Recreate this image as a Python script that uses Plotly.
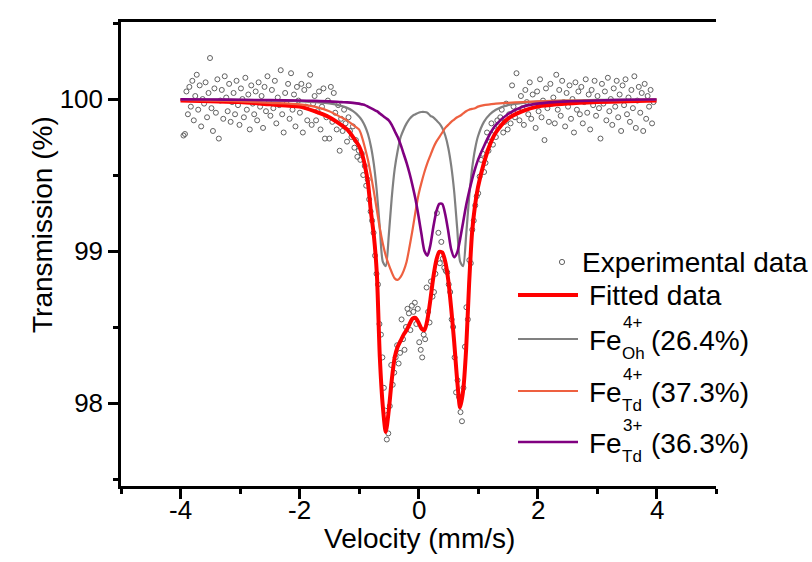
import numpy as np
import plotly.graph_objects as go

# ---------------- data ----------------
# Experimental transmission (%) for equally spaced velocity channels -3.95 .. 3.95 mm/s
trans_exp = [
    99.76, 99.77, 100.05, 99.90, 100.08, 99.95, 100.12, 99.86, 100.02, 100.16,
    99.93, 100.09, 99.82, 100.00, 99.97, 100.11, 99.88, 100.04, 100.27, 99.94,
    99.79, 100.07, 99.91, 100.13, 99.74, 99.99, 100.06, 99.87, 100.15, 100.01,
    99.92, 100.10, 99.85, 99.98, 100.04, 99.90, 100.12, 99.96, 99.83, 100.07,
    100.00, 99.88, 100.14, 99.93, 100.03, 99.80, 100.09, 99.97, 99.90, 100.05,
    99.86, 100.11, 99.95, 100.02, 99.81, 100.08, 99.92, 100.15, 99.98, 99.89,
    100.06, 99.94, 100.12, 99.84, 100.01, 99.96, 100.19, 99.90, 99.78, 100.04,
    99.97, 100.10, 99.87, 100.17, 99.93, 100.03, 99.82, 100.08, 99.99, 99.91,
    100.10, 99.78, 100.06, 99.95, 99.86, 100.09, 100.16, 99.83, 99.97, 100.02,
    99.86, 99.92, 100.05, 99.80, 99.95, 100.07, 99.74, 99.88, 99.99, 99.74,
    100.08, 99.85, 100.04, 99.91, 99.80, 99.96, 99.66, 99.87, 99.79, 99.93,
    99.84, 99.72, 99.88, 99.79, 99.75, 99.82, 99.68, 99.73, 99.62, 99.66,
    99.60, 99.64, 99.50, 99.56, 99.43, 99.47, 99.34, 99.26, 99.20, 99.12,
    98.97, 98.85, 98.78, 98.52, 98.45, 98.30, 98.10, 97.95, 97.76, 97.80,
    97.98, 98.25, 98.12, 98.20, 98.30, 98.38, 98.26, 98.33, 98.55, 98.42,
    98.35, 98.50, 98.62, 98.59, 98.48, 98.64, 98.60, 98.66, 98.52, 98.62,
    98.40, 98.35, 98.30, 98.45, 98.42, 98.76, 98.60, 98.53, 98.80, 98.70,
    98.73, 98.85, 99.25, 99.12, 98.92, 99.06, 98.95, 98.89, 98.87, 98.86,
    98.78, 98.73, 98.55, 98.50, 98.30, 98.07, 98.15, 98.04, 97.94, 97.88,
    98.10, 98.37, 98.63, 98.55, 98.94, 98.92, 99.14, 99.20, 99.30, 99.36,
    99.38, 99.49, 99.60, 99.64, 99.52, 99.58, 99.78, 99.66, 99.72, 99.84,
    99.70, 99.79, 99.75, 99.86, 99.82, 99.88, 99.93, 99.78, 99.85, 99.97,
    99.80, 99.90, 99.84, 100.09, 99.95, 99.88, 100.17, 99.92, 99.86, 100.02,
    99.94, 99.83, 100.06, 99.98, 99.90, 100.11, 99.87, 100.03, 99.96, 99.81,
    100.05, 99.92, 100.13, 99.88, 99.99, 99.73, 100.07, 99.94, 99.85, 100.10,
    99.97, 100.01, 99.84, 100.16, 99.93, 100.06, 99.89, 100.12, 99.98, 99.82,
    100.04, 99.95, 100.09, 99.87, 100.00, 99.78, 100.11, 99.93, 100.05, 99.90,
    100.08, 99.84, 99.98, 100.13, 99.91, 100.03, 99.80, 100.06, 99.96, 100.12,
    99.89, 100.02, 99.94, 99.74, 100.10, 99.97, 100.05, 99.86, 100.14, 99.92,
    100.00, 99.83, 100.07, 99.95, 100.12, 99.88, 100.03, 99.79, 100.09, 99.96,
    100.13, 99.90, 100.01, 99.85, 100.06, 99.94, 100.15, 99.81, 99.99, 100.08,
    99.91, 100.04, 99.79, 100.10, 99.87, 100.02, 99.95, 100.06, 99.84, 99.98,
]
vel_exp = np.linspace(-3.95, 3.95, len(trans_exp))  # velocity channels

# Fitted curves, read at these velocities (mm/s)
vel_fit = [-4, -3.5, -3, -2.5, -2, -1.75, -1.5, -1.3, -1.2, -1.1,
           -1.0, -0.95, -0.9, -0.85, -0.8, -0.75, -0.7, -0.65, -0.6, -0.55,
           -0.5, -0.45, -0.4, -0.35, -0.3, -0.25, -0.2, -0.15, -0.1, -0.05,
           0.0, 0.05, 0.1, 0.15, 0.2, 0.25, 0.3, 0.35, 0.4, 0.45,
           0.5, 0.55, 0.6, 0.65, 0.7, 0.75, 0.8, 0.85, 0.9, 0.95,
           1.0, 1.1, 1.2, 1.3, 1.5, 1.75, 2, 2.5, 3, 3.5, 4]

fit_total = [99.99, 99.985, 99.98, 99.965, 99.95, 99.92, 99.88, 99.83, 99.80, 99.75,
             99.69, 99.64, 99.56, 99.45, 99.26, 99.10, 98.85, 98.30, 97.98, 97.81,
             97.95, 98.15, 98.30, 98.37, 98.41, 98.45, 98.48, 98.52, 98.555, 98.56,
             98.53, 98.49, 98.48, 98.55, 98.68, 98.83, 98.94, 98.995, 98.99, 98.93,
             98.81, 98.62, 98.40, 98.15, 97.97, 98.08, 98.35, 98.78, 99.12, 99.30,
             99.42, 99.58, 99.70, 99.78, 99.87, 99.92, 99.95, 99.97, 99.98, 99.985, 99.99]

fe4_oh = [99.997, 99.996, 99.995, 99.99, 99.987, 99.98, 99.971, 99.955, 99.942, 99.92,
          99.886, 99.86, 99.823, 99.77, 99.69, 99.57, 99.39, 99.15, 98.93, 98.90,
          99.10, 99.35, 99.54, 99.66, 99.75, 99.80, 99.84, 99.87, 99.89, 99.90,
          99.91, 99.915, 99.915, 99.91, 99.89, 99.88, 99.86, 99.84, 99.81, 99.76,
          99.68, 99.56, 99.39, 99.15, 98.93, 98.90, 99.10, 99.35, 99.54, 99.67,
          99.755, 99.85, 99.90, 99.93, 99.96, 99.975, 99.983, 99.99, 99.994, 99.996, 99.997]

fe4_td = [99.995, 99.99, 99.985, 99.975, 99.965, 99.95, 99.92, 99.88, 99.86, 99.83,
          99.80, 99.75, 99.68, 99.60, 99.50, 99.39, 99.27, 99.15, 99.05, 98.97,
          98.91, 98.86, 98.82, 98.81, 98.83, 98.87, 98.93, 99.03, 99.14, 99.26,
          99.37, 99.45, 99.52, 99.58, 99.63, 99.68, 99.72, 99.75, 99.78, 99.81,
          99.83, 99.85, 99.865, 99.88, 99.89, 99.905, 99.92, 99.93, 99.935, 99.94,
          99.95, 99.96, 99.965, 99.97, 99.975, 99.98, 99.985, 99.99, 99.99, 99.993, 99.995]

fe3_td = [99.998, 99.997, 99.995, 99.993, 99.99, 99.988, 99.985, 99.98, 99.978, 99.975,
          99.97, 99.965, 99.96, 99.95, 99.94, 99.93, 99.92, 99.905, 99.89, 99.875,
          99.86, 99.83, 99.79, 99.75, 99.70, 99.64, 99.58, 99.51, 99.43, 99.34,
          99.23, 99.11, 99.00, 98.97, 99.04, 99.16, 99.26, 99.31, 99.31, 99.24,
          99.13, 99.01, 98.96, 98.99, 99.08, 99.19, 99.30, 99.39, 99.47, 99.54,
          99.60, 99.69, 99.77, 99.83, 99.90, 99.95, 99.97, 99.985, 99.99, 99.995, 99.997]

x_ticks = [-4, -2, 0, 2, 4]
y_ticks = [98, 99, 100]

FONT = "Liberation Sans, Arial, sans-serif"
C_GRAY = "#808080"
C_ORANGE = "#EE6040"
C_PURPLE = "#800080"
C_RED = "#FF0000"

# ---------------- figure ----------------
W, H = 812, 562
L, R, T, B = 121, 716, 22, 486   # plot area in pixels
def px(x):
    return (x - L) / (R - L)
def py(y):
    return (B - y) / (B - T)

fig = go.Figure()
fig.add_trace(go.Scatter(x=vel_exp, y=trans_exp, mode="markers",
                         marker=dict(symbol="circle-open", size=5, color="#606060",
                                     line=dict(width=1, color="#606060")),
                         showlegend=False, hoverinfo="skip"))
fig.add_trace(go.Scatter(x=vel_fit, y=fit_total, mode="lines",
                         line=dict(color=C_RED, width=4, shape="spline", smoothing=0.7),
                         showlegend=False))
fig.add_trace(go.Scatter(x=vel_fit, y=fe4_oh, mode="lines",
                         line=dict(color=C_GRAY, width=2.2, shape="spline", smoothing=0.7),
                         showlegend=False))
fig.add_trace(go.Scatter(x=vel_fit, y=fe4_td, mode="lines",
                         line=dict(color=C_ORANGE, width=2.2, shape="spline", smoothing=0.7),
                         showlegend=False))
fig.add_trace(go.Scatter(x=vel_fit, y=fe3_td, mode="lines",
                         line=dict(color=C_PURPLE, width=2.6, shape="spline", smoothing=0.7),
                         showlegend=False))

axis_common = dict(showgrid=False, zeroline=False, showline=True, linecolor="black",
                   linewidth=2.5, ticks="outside", ticklen=10, tickwidth=2.5,
                   tickcolor="black", tickfont=dict(family=FONT, size=26, color="black"))

fig.update_xaxes(range=[-5, 5], tickvals=x_ticks, showticklabels=False,
                 mirror=True,
                 minor=dict(dtick=1, tick0=0, ticks="outside", ticklen=5, tickwidth=2.5,
                            tickcolor="black", showgrid=False),
                 **axis_common)
fig.update_yaxes(range=[97.454, 100.507], tickvals=y_ticks, ticktext=[str(v) for v in y_ticks],
                 minor=dict(dtick=0.5, tick0=97.5, ticks="outside", ticklen=5, tickwidth=2.5,
                            tickcolor="black", showgrid=False),
                 **axis_common)

annotations = []
shapes = []

def text(x, y, s, size=28, anchor="left", angle=0):
    annotations.append(dict(x=px(x), y=py(y), xref="paper", yref="paper", text=s,
                            showarrow=False, xanchor=anchor, yanchor="middle",
                            textangle=angle,
                            font=dict(family=FONT, size=size, color="black")))

# x tick labels placed at the axis tick values
for v in x_ticks:
    annotations.append(dict(x=v, y=py(510), xref="x", yref="paper", text=str(v),
                            showarrow=False, xanchor="center", yanchor="middle",
                            font=dict(family=FONT, size=26, color="black")))

# axis titles
text(419, 538, "Velocity (mm/s)", size=28, anchor="center")
text(42, 225, "Transmission (%)", size=28, anchor="center", angle=-90)

# legend
shapes.append(dict(type="circle", xref="paper", yref="paper", xsizemode="pixel",
                   ysizemode="pixel", xanchor=px(562), yanchor=py(262),
                   x0=-2.6, x1=2.6, y0=-2.6, y1=2.6,
                   line=dict(color="#606060", width=1)))
text(580, 262, "Experimental data")

legend_lines = [(295, C_RED, 4), (339, C_GRAY, 2.2), (391, C_ORANGE, 2.2), (442, C_PURPLE, 2.6)]
for yy, col, wd in legend_lines:
    shapes.append(dict(type="line", xref="paper", yref="paper",
                       x0=px(518), x1=px(578), y0=py(yy), y1=py(yy),
                       line=dict(color=col, width=wd)))
text(587, 296, "Fitted data")

rows = [(339, "4+", "Oh", "(26.4%)"), (391, "4+", "Td", "(37.3%)"), (442, "3+", "Td", "(36.3%)")]
for yy, sup, sub, pct in rows:
    text(587, yy + 1, "Fe")
    text(621, yy - 17, sup, size=17)
    text(620, yy + 14, sub, size=17)
    text(649, yy + 1, pct)

fig.update_layout(width=W, height=H, autosize=False,
                  margin=dict(l=L, r=W - R, t=T, b=H - B),
                  plot_bgcolor="white", paper_bgcolor="white",
                  annotations=annotations, shapes=shapes, showlegend=False)

fig.write_html("out.html")
